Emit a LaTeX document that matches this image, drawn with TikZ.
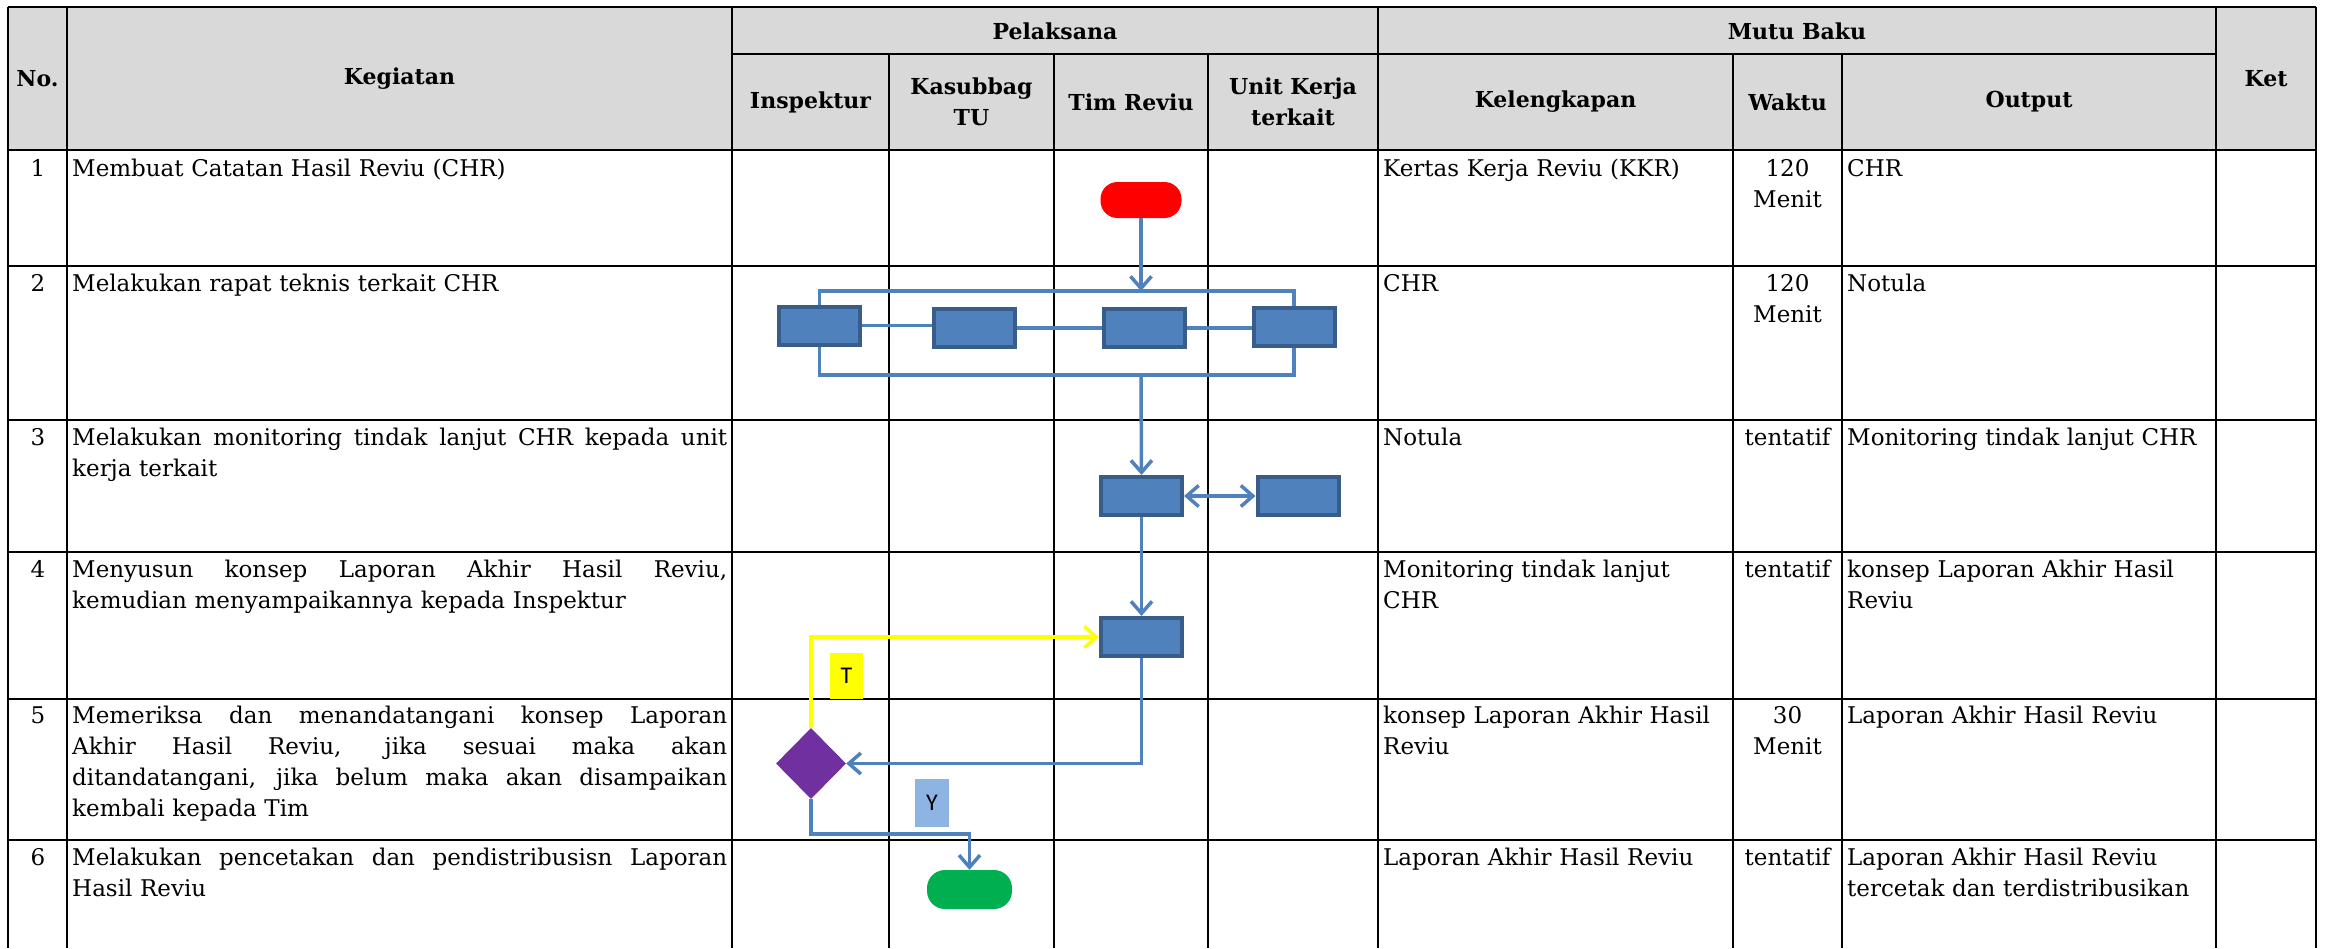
\documentclass[tikz,border=0pt]{standalone}
\usepackage{fontspec}
\setmainfont{DejaVu Serif}
\newfontfamily\lblfont{Carlito}
\usetikzlibrary{shapes.geometric,arrows.meta}
\definecolor{hdrgray}{HTML}{D9D9D9}
\definecolor{flowblue}{HTML}{4F81BD}
\definecolor{boxedge}{HTML}{385D8A}
\definecolor{startred}{HTML}{FF0000}
\definecolor{endgreen}{HTML}{00B050}
\definecolor{decpurple}{HTML}{7030A0}
\definecolor{ylw}{HTML}{FFFF00}
\definecolor{ylabel}{HTML}{8EB4E3}
\newcommand{\jline}[1]{\makebox[655pt][s]{\spaceskip=0pt\xspaceskip=0pt\relax #1}}
\begin{document}
\begin{tikzpicture}[x=1pt,y=-1pt,
  grid/.style={line width=2.5pt, draw=black},
  hdr/.style={font=\fontsize{22}{31}\selectfont\bfseries, align=center, inner sep=0pt},
  body/.style={font=\fontsize{23}{31}\selectfont, align=left, inner sep=0pt, anchor=base west},
  numtxt/.style={font=\fontsize{23}{31}\selectfont, inner sep=0pt, anchor=base},
  waktu/.style={font=\fontsize{23}{31}\selectfont, align=center, text width=105pt, inner sep=0pt, anchor=base},
  procbox/.style={draw=boxedge, fill=flowblue, line width=4pt, minimum width=81pt, minimum height=38pt, inner sep=0pt},
  terminal/.style={rounded corners=17pt, minimum width=81pt, minimum height=36pt, inner sep=0pt},
  decision/.style={diamond, fill=decpurple, minimum width=70pt, minimum height=71pt, inner sep=0pt},
  tag/.style={font=\lblfont\fontsize{24}{28}\selectfont, inner sep=0pt, minimum width=33pt, minimum height=46pt},
  flow/.style={draw=flowblue, line width=3.5pt},
  yflow/.style={draw=ylw, line width=3.5pt},
  arrowend/.style={-{Straight Barb[length=12pt,width=21pt]}},
  arrowboth/.style={{Straight Barb[length=12pt,width=21pt]}-{Straight Barb[length=12pt,width=21pt]}}
]
\useasboundingbox (0,0) rectangle (2327,948);
\fill[white] (0,0) rectangle (2327,948);
% header background
\fill[hdrgray] (8,7) rectangle (2316,150);
% grid
\draw[grid] (8,7) -- (2316,7);
\draw[grid] (732,54) -- (2216,54);
\foreach \yy in {150,266,420,552,699,840} \draw[grid] (8,\yy) -- (2316,\yy);
\foreach \xx in {8,67,732,1378,2216,2316} \draw[grid] (\xx,7) -- (\xx,948);
\foreach \xx in {889,1054,1208,1733,1842} \draw[grid] (\xx,54) -- (\xx,948);
% header texts
\node[hdr] (hno) at (37.5,79) {No.};
\node[hdr] (hkeg) at (399.5,79) {Kegiatan};
\node[hdr] (hpel) at (1055,31) {Pelaksana};
\node[hdr] (hmutu) at (1797,31) {Mutu Baku};
\node[hdr] (hket) at (2266,79) {Ket};
\node[hdr] (hins) at (810.5,102) {Inspektur};
\node[hdr] (hkas) at (971.5,102) {Kasubbag\\TU};
\node[hdr] (htim) at (1131,102) {Tim Reviu};
\node[hdr] (hunit) at (1293,102) {Unit Kerja\\terkait};
\node[hdr] (hkel) at (1555.5,102) {Kelengkapan};
\node[hdr] (hwak) at (1787.5,102) {Waktu};
\node[hdr] (hout) at (2029,102) {Output};
% row numbers
\node[numtxt] (n1) at (38,176) {1};
\node[numtxt] (n2) at (38,291) {2};
\node[numtxt] (n3) at (38,445) {3};
\node[numtxt] (n4) at (38,577) {4};
\node[numtxt] (n5) at (38,723) {5};
\node[numtxt] (n6) at (38,865) {6};
% kegiatan
\node[body, text width=655pt] (k1) at (72,176) {Membuat Catatan Hasil Reviu (CHR)};
\node[body, text width=655pt] (k2) at (72,291) {Melakukan rapat teknis terkait CHR};
\node[body, text width=655pt] (k3) at (72,445) {\jline{Melakukan monitoring tindak lanjut CHR kepada unit}\\kerja terkait};
\node[body, text width=655pt] (k4) at (72,577) {\jline{Menyusun konsep Laporan Akhir Hasil Reviu,}\\kemudian menyampaikannya kepada Inspektur};
\node[body, text width=655pt] (k5) at (72,723) {\jline{Memeriksa dan menandatangani konsep Laporan}\\\jline{Akhir Hasil Reviu, jika sesuai maka akan}\\\jline{ditandatangani, jika belum maka akan disampaikan}\\kembali kepada Tim};
\node[body, text width=655pt] (k6) at (72,865) {\jline{Melakukan pencetakan dan pendistribusisn Laporan}\\Hasil Reviu};
% kelengkapan
\node[body, text width=345pt] (l1) at (1383,176) {Kertas Kerja Reviu (KKR)};
\node[body, text width=345pt] (l2) at (1383,291) {CHR};
\node[body, text width=345pt] (l3) at (1383,445) {Notula};
\node[body, text width=345pt] (l4) at (1383,577) {Monitoring tindak lanjut\\CHR};
\node[body, text width=345pt] (l5) at (1383,723) {konsep Laporan Akhir Hasil\\Reviu};
\node[body, text width=345pt] (l6) at (1383,865) {Laporan Akhir Hasil Reviu};
% waktu
\node[waktu] (w1) at (1787.5,176) {120\\Menit};
\node[waktu] (w2) at (1787.5,291) {120\\Menit};
\node[waktu] (w3) at (1787.5,445) {tentatif};
\node[waktu] (w4) at (1787.5,577) {tentatif};
\node[waktu] (w5) at (1787.5,723) {30\\Menit};
\node[waktu] (w6) at (1787.5,865) {tentatif};
% output
\node[body, text width=365pt] (o1) at (1847,176) {CHR};
\node[body, text width=365pt] (o2) at (1847,291) {Notula};
\node[body, text width=365pt] (o3) at (1847,445) {Monitoring tindak lanjut CHR};
\node[body, text width=365pt] (o4) at (1847,577) {konsep Laporan Akhir Hasil\\Reviu};
\node[body, text width=365pt] (o5) at (1847,723) {Laporan Akhir Hasil Reviu};
\node[body, text width=365pt] (o6) at (1847,865) {Laporan Akhir Hasil Reviu\\tercetak dan terdistribusikan};
% flow shapes
\node[terminal, fill=startred] (start) at (1141,200) {};
\node[procbox] (A) at (819.5,325.5) {};
\node[procbox] (B) at (974,328) {};
\node[procbox] (C) at (1144.5,328) {};
\node[procbox] (D) at (1294,327) {};
\node[procbox] (E) at (1141.5,496) {};
\node[procbox] (F) at (1298,496) {};
\node[procbox] (G) at (1141.5,637) {};
\node[decision] (dec) at (811,763.5) {};
\node[terminal, fill=endgreen, minimum width=85pt, minimum height=39pt, rounded corners=18pt] (finish) at (969.5,889.5) {};
\node[tag, fill=ylw] (tT) at (846.5,676) {T};
\node[tag, fill=ylabel, minimum width=34pt, minimum height=48pt] (tY) at (932,803) {Y};
\coordinate (topbar) at (1141,291);
\coordinate (botbar) at (1141,375);
\coordinate (ybend) at (969.5,834);
% connectors
\draw[flow, arrowend] (start.south) -- (topbar);
\draw[flow] (A.north) |- (topbar) -| (D.north);
\draw[flow] (A.south) |- (botbar) -| (D.south);
\draw[flow] (A.east) -- (A.east -| B.west);
\draw[flow] (B.east) -- (B.east -| C.west);
\draw[flow] (C.east) -- (C.east -| D.west);
\draw[flow, arrowend] (botbar) -- (E.north);
\draw[flow, arrowboth] (E.east) -- (F.west);
\draw[flow, arrowend] (E.south) -- (G.north);
\draw[flow, arrowend] (G.south) |- (dec.east);
\draw[yflow, arrowend] (dec.north) |- (G.west);
\draw[flow, arrowend] (dec.south) |- (ybend) -- (finish.north);
\end{tikzpicture}
\end{document}
